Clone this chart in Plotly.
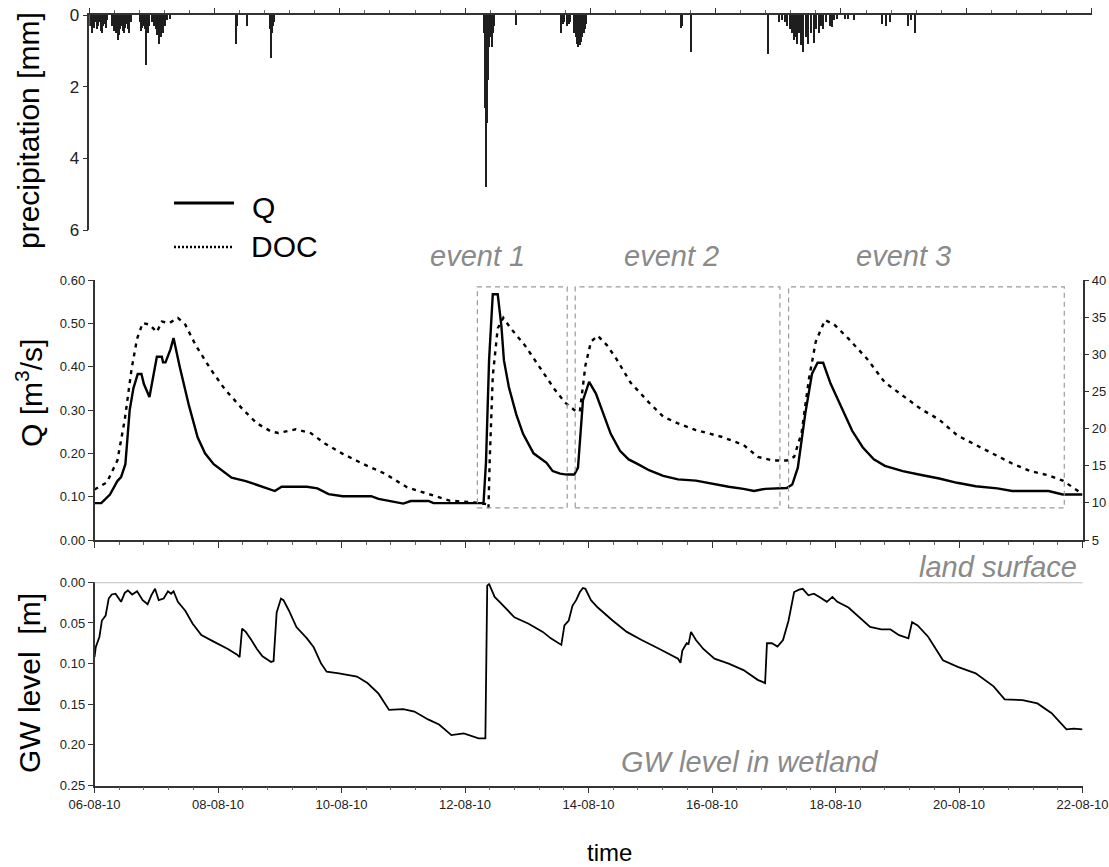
import pandas as pd
import plotly.graph_objects as go

START = pd.Timestamp("2010-08-06")
END = pd.Timestamp("2010-08-22")
DAY_MS = 86400000

# ---------------- data ----------------
# precipitation: hours after 06-08-10 00:00, mm
precip_hour = [0.5, 1, 1.5, 2, 2.5, 3, 3.5, 4, 4.5, 5, 5.5, 6, 6.5, 7,
               9, 9.5, 10, 10.5, 11, 11.5, 12, 12.5, 13, 13.5, 14, 14.5, 15, 15.5, 16,
               19.5, 20, 20.5, 21, 21.5, 22, 22.5, 23, 24, 25, 25.5, 26, 26.5, 27, 27.5, 28, 28.5, 29, 30, 31,
               56.2, 56.6, 60.5,
               69.3, 69.6, 70, 70.4, 70.8,
               151.4, 151.7, 152.0, 152.2, 152.5, 152.8, 153.2, 153.6, 154.0, 154.4, 154.8, 155.2,
               163.7,
               181, 181.6, 182.2, 183, 183.8, 184.5, 186, 186.5, 187, 187.5, 188, 188.5, 189, 189.5, 190, 190.6,
               226.8, 227.2, 230.6,
               260,
               264.4, 265.5, 266.6, 267.6, 268.6, 269.3, 270, 270.7, 271.4, 272.1, 272.8, 273.7, 274.6,
               275.6, 276.6, 277.7, 278.7, 279.7, 280.5, 281.1, 282.5, 283.9, 284.6, 285.6, 286.7,
               289.6, 291, 293,
               304, 305.5, 307,
               313.8, 315, 316.5]
precip_mm = [0.3, 0.5, 0.25, 0.35, 0.2, 0.4, 0.3, 0.2, 0.45, 0.5, 0.3, 0.25, 0.35, 0.15,
             0.3, 0.45, 0.35, 0.5, 0.7, 0.55, 0.4, 0.3, 0.45, 0.5, 0.35, 0.25, 0.4, 0.5, 0.2,
             0.2, 0.45, 0.35, 0.3, 0.4, 1.4, 0.5, 0.3, 0.2, 0.3, 0.4, 0.55, 0.35, 0.8, 0.6, 0.4, 0.5, 0.3, 0.15, 0.1,
             0.8, 0.3, 0.3,
             0.4, 1.2, 0.5, 0.3, 0.2,
             0.5, 2.6, 2.3, 4.8, 3.0, 1.8, 0.9, 0.6, 0.5, 0.9, 0.5, 0.3,
             0.28,
             0.5, 0.25, 0.2, 0.3, 0.25, 0.2, 0.5, 0.6, 0.8, 0.9, 0.85, 0.75, 0.6, 0.5, 0.4, 0.25,
             0.37, 0.3, 1.03,
             1.1,
             0.2, 0.15, 0.2, 0.3, 0.4, 0.5, 0.7, 0.6, 0.8, 0.5, 0.85, 1.03, 0.6,
             0.8, 0.5, 0.78, 0.4, 0.5, 0.3, 0.4, 0.2, 0.3, 0.33, 0.15, 0.1,
             0.12, 0.1, 0.15,
             0.25, 0.3, 0.2,
             0.3, 0.15, 0.5]

# discharge Q: days after 06-08-10, m3/s
q_day = [0.0, 0.11, 0.25, 0.37, 0.43, 0.50, 0.57, 0.63, 0.70, 0.76,
         0.80, 0.89, 1.01, 1.09, 1.11, 1.15, 1.23, 1.28, 1.38, 1.53,
         1.67, 1.79, 1.93, 2.08, 2.22, 2.45, 2.63, 2.80, 2.92, 3.03,
         3.44, 3.61, 3.79, 4.02, 4.48, 4.60, 4.83, 5.00, 5.12, 5.41,
         5.49, 6.30, 6.34, 6.39, 6.45, 6.53, 6.59, 6.63, 6.71, 6.83,
         6.94, 7.11, 7.32, 7.42, 7.54, 7.65, 7.77, 7.83, 7.91, 8.01,
         8.12, 8.24, 8.36, 8.51, 8.65, 8.80, 8.98, 9.21, 9.45, 9.74,
         9.98, 10.27, 10.51, 10.68, 10.86, 11.21, 11.30, 11.39, 11.51, 11.62,
         11.71, 11.80, 11.92, 12.09, 12.27, 12.44, 12.62, 12.80, 13.09, 13.39,
         13.68, 13.97, 14.27, 14.62, 14.86, 15.45, 15.68, 16.0]
q_val = [0.085, 0.085, 0.105, 0.136, 0.145, 0.175, 0.30, 0.35, 0.383, 0.383,
         0.36, 0.33, 0.423, 0.423, 0.41, 0.41, 0.44, 0.466, 0.40, 0.31,
         0.237, 0.20, 0.175, 0.16, 0.144, 0.136, 0.127, 0.12, 0.113, 0.123,
         0.123, 0.119, 0.106, 0.101, 0.101, 0.095, 0.089, 0.084, 0.09, 0.09,
         0.085, 0.085, 0.18, 0.415, 0.567, 0.567, 0.493, 0.415, 0.353, 0.29,
         0.245, 0.20, 0.178, 0.159, 0.153, 0.151, 0.151, 0.167, 0.322, 0.365,
         0.338, 0.291, 0.245, 0.206, 0.186, 0.175, 0.161, 0.148, 0.14, 0.137,
         0.13, 0.123, 0.118, 0.113, 0.118, 0.12, 0.128, 0.167, 0.291, 0.384,
         0.409, 0.409, 0.361, 0.307, 0.252, 0.214, 0.186, 0.171, 0.159, 0.15,
         0.142, 0.132, 0.124, 0.119, 0.113, 0.113, 0.105, 0.105]

# DOC: days after 06-08-10, mg/l (right axis)
doc_day = [0.0, 0.20, 0.37, 0.49, 0.60, 0.69, 0.78, 0.89, 1.01, 1.09,
           1.21, 1.35, 1.47, 1.64, 1.88, 2.11, 2.40, 2.63, 2.86, 2.98,
           3.26, 3.50, 3.73, 4.02, 4.36, 4.71, 5.06, 5.41, 5.75, 6.22,
           6.36, 6.38, 6.40, 6.45, 6.53, 6.62, 6.74, 6.97, 7.20, 7.45,
           7.62, 7.80, 7.86, 7.95, 8.04, 8.15, 8.30, 8.45, 8.68, 8.98,
           9.21, 9.45, 9.74, 10.15, 10.51, 10.74, 10.98, 11.21, 11.33, 11.45,
           11.57, 11.68, 11.83, 11.98, 12.21, 12.51, 12.80, 13.09, 13.39, 13.68,
           13.97, 14.27, 14.56, 14.86, 15.15, 15.45, 15.68, 16.0]
doc_val = [11.8, 12.75, 15.7, 21.2, 28.0, 32.1, 34.2, 34.0, 33.0, 34.4,
           34.2, 34.9, 34.0, 31.2, 28.0, 25.3, 22.6, 20.7, 19.6, 19.4,
           19.9, 19.4, 18.0, 16.6, 15.2, 13.9, 12.1, 11.2, 10.3, 10.0,
           9.8, 9.3, 15.7, 27.1, 33.5, 34.9, 33.5, 31.2, 28.3, 25.3,
           23.5, 22.3, 22.3, 28.5, 31.7, 32.5, 31.2, 29.4, 26.2, 23.5,
           21.6, 20.7, 19.8, 18.9, 17.8, 16.2, 15.7, 15.7, 16.2, 19.4,
           26.7, 31.7, 34.6, 34.0, 32.1, 29.4, 26.2, 24.4, 22.6, 21.2,
           19.1, 17.8, 16.6, 15.3, 14.3, 13.7, 13.0, 11.2]

# groundwater level below land surface: days after 06-08-10, m
gw_day = [0.0, 0.02, 0.08, 0.12, 0.18, 0.23, 0.28, 0.34, 0.43, 0.49,
          0.54, 0.61, 0.69, 0.78, 0.86, 0.92, 0.98, 1.04, 1.12, 1.19,
          1.24, 1.28, 1.35, 1.47, 1.59, 1.73, 1.93, 2.16, 2.31, 2.35,
          2.39, 2.45, 2.54, 2.63, 2.72, 2.86, 2.90, 2.95, 3.02, 3.06,
          3.15, 3.27, 3.44, 3.55, 3.67, 3.76, 3.96, 4.25, 4.42, 4.60,
          4.77, 5.00, 5.18, 5.41, 5.58, 5.78, 5.98, 6.22, 6.33, 6.36,
          6.39, 6.48, 6.56, 6.80, 7.03, 7.26,
          7.39, 7.56, 7.61, 7.68, 7.74, 7.80, 7.86, 7.91, 7.95, 8.04,
          8.15, 8.39, 8.62, 8.86, 9.15, 9.45, 9.49, 9.52, 9.59, 9.62,
          9.66, 9.74, 9.86, 10.04, 10.27, 10.51, 10.74, 10.86, 10.89, 10.97,
          11.06, 11.15, 11.24, 11.33, 11.41, 11.47, 11.56, 11.65, 11.74, 11.86,
          11.95, 12.03, 12.21, 12.39, 12.56, 12.74, 12.89, 13.03, 13.18, 13.24,
          13.33, 13.50, 13.74, 13.98, 14.27, 14.56, 14.74, 15.03, 15.27, 15.50,
          15.74, 15.86, 16.00]
gw_val = [0.092, 0.080, 0.067, 0.047, 0.041, 0.020, 0.015, 0.014, 0.024, 0.013,
          0.010, 0.015, 0.011, 0.022, 0.027, 0.016, 0.008, 0.022, 0.020, 0.011,
          0.014, 0.011, 0.024, 0.035, 0.051, 0.065, 0.073, 0.082, 0.089, 0.092,
          0.057, 0.061, 0.071, 0.082, 0.091, 0.098, 0.097, 0.037, 0.020, 0.022,
          0.035, 0.055, 0.069, 0.080, 0.100, 0.110, 0.112, 0.116, 0.124, 0.137,
          0.157, 0.156, 0.159, 0.169, 0.175, 0.188, 0.186, 0.192, 0.192, 0.004,
          0.002, 0.018, 0.024, 0.043, 0.051, 0.061,
          0.069, 0.077, 0.053, 0.047, 0.029, 0.022, 0.012, 0.007, 0.008, 0.022,
          0.031, 0.047, 0.061, 0.071, 0.082, 0.094, 0.099, 0.084, 0.075, 0.076,
          0.061, 0.071, 0.082, 0.094, 0.100, 0.108, 0.120, 0.124, 0.075, 0.075,
          0.079, 0.071, 0.047, 0.012, 0.009, 0.008, 0.016, 0.014, 0.018, 0.024,
          0.018, 0.024, 0.031, 0.043, 0.055, 0.058, 0.058, 0.065, 0.069, 0.049,
          0.053, 0.067, 0.096, 0.104, 0.112, 0.128, 0.144, 0.145, 0.149, 0.161,
          0.181, 0.180, 0.181]

# events (days after 06-08-10) and the Q band they enclose
event_names = ["event 1", "event 2", "event 3"]
event_start_day = [6.20, 7.785, 11.24]
event_end_day = [7.655, 11.10, 15.705]
event_q_band = [0.074, 0.584]

precip_ticks = [0, 2, 4, 6]
q_ticks = [0.0, 0.1, 0.2, 0.3, 0.4, 0.5, 0.6]
doc_ticks = [5, 10, 15, 20, 25, 30, 35, 40]
gw_ticks = [0.0, 0.05, 0.10, 0.15, 0.20, 0.25]


def days_to_time(days):
    return [START + pd.Timedelta(days=d) for d in days]


def hours_to_time(hours):
    return [START + pd.Timedelta(hours=h) for h in hours]


W, H = 1109, 867


def fx(x):
    return x / W


def fy(y):
    return 1 - y / H


FONT = "Liberation Sans, Arial, sans-serif"
TICKFONT = dict(family=FONT, size=13, color="#222")
GREY = "#8a8a8a"

fig = go.Figure()
fig.add_trace(go.Bar(x=hours_to_time(precip_hour), y=precip_mm, width=1500000,
                     marker=dict(color="#1e1e1e", line=dict(width=0)),
                     xaxis="x", yaxis="y", showlegend=False))
fig.add_trace(go.Scatter(x=days_to_time(q_day), y=q_val, mode="lines", name="Q",
                         line=dict(color="black", width=2.4),
                         xaxis="x2", yaxis="y2", showlegend=False))
fig.add_trace(go.Scatter(x=days_to_time(doc_day), y=doc_val, mode="lines", name="DOC",
                         line=dict(color="black", width=2.4, dash="4px,5px"),
                         xaxis="x2", yaxis="y3", showlegend=False))
fig.add_trace(go.Scatter(x=days_to_time(gw_day), y=gw_val, mode="lines", name="GW",
                         line=dict(color="black", width=1.8),
                         xaxis="x3", yaxis="y4", showlegend=False))


def xaxis_common(**kw):
    d = dict(type="date", range=[START, END], tick0=START, dtick=2 * DAY_MS,
             ticks="outside", ticklen=6, tickwidth=1.3, tickcolor="#333",
             showline=True, linecolor="#333", linewidth=1.5,
             minor=dict(dtick=2 * DAY_MS / 5, ticks="outside", ticklen=3,
                        tickwidth=1, tickcolor="#666", showgrid=False),
             showgrid=False, zeroline=False, tickformat="%d-%m-%y",
             tickfont=TICKFONT, fixedrange=True, automargin=False)
    d.update(kw)
    return d


def yaxis_common(**kw):
    d = dict(ticks="outside", ticklen=5, tickwidth=1.3, tickcolor="#333",
             showline=True, linecolor="#333", linewidth=1.5,
             showgrid=False, zeroline=False, tickfont=TICKFONT, fixedrange=True,
             automargin=False)
    d.update(kw)
    return d


mid_dom = [fx(94.5), fx(1082.5)]

fig.update_layout(
    width=W, height=H,
    margin=dict(l=0, r=0, t=0, b=0, pad=0, autoexpand=False),
    paper_bgcolor="white", plot_bgcolor="white",
    bargap=0,
    xaxis=xaxis_common(domain=[fx(89.3), fx(1091.5)], anchor="y", side="top",
                       showticklabels=False, ticklen=5),
    yaxis=yaxis_common(domain=[fy(230), fy(15)], anchor="x", range=[6, 0],
                       tickvals=precip_ticks,
                       tickfont=dict(family=FONT, size=17, color="#222")),
    xaxis2=xaxis_common(domain=mid_dom, anchor="y2", showticklabels=False),
    yaxis2=yaxis_common(domain=[fy(540), fy(280)], anchor="x2", range=[0, 0.6],
                        tickvals=q_ticks, tickformat=".2f"),
    yaxis3=yaxis_common(overlaying="y2", side="right", anchor="x2", range=[5, 40],
                        tickvals=doc_ticks),
    xaxis3=xaxis_common(domain=mid_dom, anchor="y4"),
    yaxis4=yaxis_common(domain=[fy(785.5), fy(582.3)], anchor="x3", range=[0.25, 0],
                        tickvals=gw_ticks, tickformat=".2f"),
)

shapes = []
# event boxes
for s, e in zip(event_start_day, event_end_day):
    shapes.append(dict(type="rect", xref="x2", yref="y2",
                       x0=START + pd.Timedelta(days=s), x1=START + pd.Timedelta(days=e),
                       y0=event_q_band[0], y1=event_q_band[1],
                       line=dict(color="#9a9a9a", width=1.2, dash="5px,4px"),
                       fillcolor="rgba(0,0,0,0)"))
# land surface line (GW level = 0)
shapes.append(dict(type="line", xref="x3 domain", yref="y4", x0=0, x1=1, y0=0, y1=0,
                   line=dict(color="#bdbdbd", width=2)))
# legend samples
shapes.append(dict(type="line", xref="paper", yref="paper", x0=fx(174), x1=fx(234),
                   y0=fy(203), y1=fy(203), line=dict(color="black", width=3)))
shapes.append(dict(type="line", xref="paper", yref="paper", x0=fx(174), x1=fx(234),
                   y0=fy(247), y1=fy(247), line=dict(color="black", width=2.5, dash="2px,2px")))
fig.update_layout(shapes=shapes)

ann = []


def add_text(text, x, y, size, color="black", italic=False, angle=0, xanchor="center", yanchor="middle"):
    ann.append(dict(text=text, x=fx(x), y=fy(y), xref="paper", yref="paper",
                    showarrow=False, textangle=angle, xanchor=xanchor, yanchor=yanchor,
                    font=dict(family=FONT, size=size, color=color,
                              style="italic" if italic else "normal")))


add_text("precipitation [mm]", 29, 131, 30, angle=-90)
add_text("Q [m<sup>3</sup>/s]", 29, 393, 30, angle=-90)
add_text("GW level  [m]", 29, 683, 30, angle=-90)
add_text("time", 609, 852, 24)
add_text("Q", 250, 207, 30, xanchor="left")
add_text("DOC", 249, 246, 30, xanchor="left")
event_label_x = [477.7, 671.5, 903]
for name, xl in zip(event_names, event_label_x):
    add_text(name, xl, 256, 29, color=GREY, italic=True)
add_text("land surface", 1079, 567, 29, color=GREY, italic=True, xanchor="right")
add_text("GW level in wetland", 749.5, 762, 29, color=GREY, italic=True)
fig.update_layout(annotations=ann)

fig.write_html("out.html")
